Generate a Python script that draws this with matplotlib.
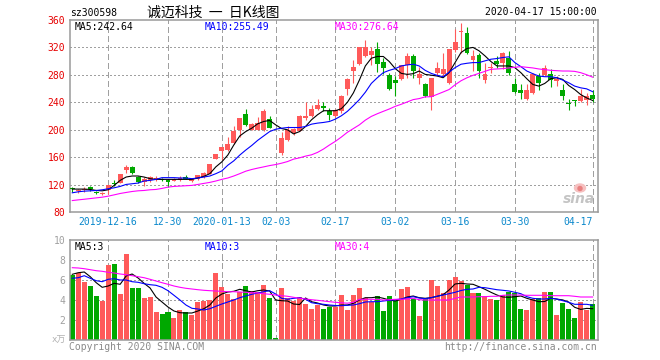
import numpy as np
import matplotlib
matplotlib.use("Agg")
import matplotlib.pyplot as plt
from matplotlib.patches import Ellipse

plt.rcParams["font.family"] = ["DejaVu Sans Mono", "Noto Sans CJK SC"]
plt.rcParams["lines.scale_dashes"] = False

W, H = 660, 360

# daily candles, 88 trading days (2019-12-06 .. 2020-04-17)
opens = [114.3, 110.0, 111.4, 116.3, 109.5, 106.5, 111.4, 121.5, 122.2, 141.0,
         145.8, 131.0, 124.0, 126.0, 126.0, 128.6, 126.0, 125.5, 126.0, 131.0,
         125.0, 127.6, 131.0, 136.0, 158.0, 169.3, 170.3, 180.0, 199.8, 223.3,
         199.8, 200.0, 199.8, 215.5, 183.3, 165.4, 185.0, 194.9, 198.8, 216.9,
         220.4, 230.7, 235.1, 227.7, 220.4, 226.7, 259.6, 285.6, 295.5, 307.7,
         309.2, 317.5, 298.9, 279.2, 272.8, 274.4, 294.0, 307.7, 275.8, 266.5,
         247.0, 282.0, 280.7, 268.5, 316.0, 342.0, 341.0, 301.8, 308.7, 272.4,
         290.0, 300.4, 297.9, 305.3, 266.0, 257.2, 244.9, 253.7, 278.3, 279.8,
         281.7, 270.9, 258.6, 238.5, 241.9, 241.5, 243.9, 251.3]
highs = [116.3, 114.0, 116.0, 117.5, 111.0, 109.5, 119.5, 126.0, 135.5, 148.0,
         147.5, 132.0, 131.0, 133.0, 132.0, 130.0, 128.6, 129.0, 132.0, 134.0,
         129.0, 134.5, 138.0, 150.0, 165.0, 175.0, 190.0, 204.7, 217.0, 230.7,
         210.0, 218.0, 230.7, 220.4, 183.3, 197.3, 204.7, 203.0, 221.0, 240.0,
         236.6, 245.4, 240.0, 231.7, 230.0, 250.5, 275.0, 301.4, 320.5, 330.8,
         320.0, 327.4, 305.3, 283.2, 277.7, 295.0, 312.6, 310.0, 291.5, 268.0,
         276.0, 298.5, 312.0, 318.0, 347.0, 355.8, 349.5, 316.6, 312.6, 297.9,
         297.9, 307.7, 313.6, 314.1, 275.8, 266.0, 266.0, 283.0, 283.2, 294.0,
         289.0, 278.3, 266.0, 244.9, 244.0, 259.6, 253.7, 258.6]
lows = [109.0, 108.0, 109.5, 111.0, 106.0, 105.0, 106.5, 117.5, 122.0, 137.0,
        135.0, 123.0, 118.0, 124.0, 125.0, 125.0, 116.0, 125.0, 125.0, 128.0,
        124.0, 126.0, 129.0, 135.0, 157.0, 155.6, 169.0, 179.0, 190.0, 206.0,
        199.0, 199.0, 197.7, 202.0, 183.0, 163.0, 184.0, 193.0, 198.0, 214.5,
        219.0, 229.2, 226.7, 214.5, 219.0, 225.0, 251.3, 268.5, 294.0, 306.0,
        294.5, 284.0, 280.7, 258.6, 248.8, 273.0, 275.8, 275.8, 266.0, 248.0,
        228.7, 280.0, 279.0, 266.0, 314.0, 312.6, 310.0, 285.6, 275.8, 267.5,
        283.2, 290.6, 288.0, 279.8, 253.7, 244.9, 244.0, 252.0, 258.6, 279.0,
        262.6, 263.6, 243.9, 228.2, 234.1, 240.0, 236.6, 240.0]
closes = [113.8, 112.4, 113.9, 113.4, 107.0, 108.0, 118.8, 120.5, 135.0, 146.0,
          137.0, 123.7, 127.6, 131.0, 129.6, 126.0, 123.7, 127.5, 130.0, 128.6,
          127.6, 133.5, 137.0, 149.7, 164.4, 174.2, 179.0, 198.8, 216.9, 207.1,
          208.6, 209.6, 226.7, 203.2, 183.0, 188.5, 199.8, 201.2, 220.4, 220.4,
          230.7, 236.6, 231.2, 221.8, 229.2, 249.8, 274.4, 291.5, 320.0, 320.0,
          314.1, 296.4, 290.0, 259.6, 267.9, 294.0, 307.7, 285.6, 281.7, 248.8,
          275.0, 290.6, 289.0, 317.5, 327.4, 343.6, 311.2, 307.7, 285.6, 280.7,
          290.6, 295.5, 311.2, 283.2, 255.2, 253.7, 257.2, 281.7, 267.5, 290.6,
          271.9, 274.4, 249.8, 238.0, 241.5, 249.8, 248.8, 244.9]

ma5 = [113.4, 113.4, 113.4, 112.9, 111.4, 110.9, 112.4, 118.8, 126.1, 131.0,
       132.5, 132.5, 131.0, 128.6, 127.6, 127.6, 127.6, 127.6, 127.6, 127.6,
       127.6, 129.6, 132.0, 135.9, 145.8, 153.1, 163.0, 177.7, 190.9, 197.3,
       202.2, 208.6, 212.0, 213.5, 207.1, 201.7, 199.8, 193.9, 197.3, 204.7,
       214.5, 221.8, 227.7, 227.7, 227.7, 230.7, 240.0, 253.7, 272.4, 293.0,
       304.3, 306.8, 306.8, 299.4, 289.1, 282.2, 280.7, 281.7, 285.6, 280.7,
       279.5, 278.3, 275.8, 283.2, 297.9, 312.6, 318.5, 320.0, 315.1, 307.7,
       299.4, 293.0, 293.0, 293.0, 290.5, 283.2, 274.3, 266.0, 263.6, 267.5,
       274.4, 275.8, 273.4, 264.5, 258.6, 251.3, 246.4, 242.64]
ma10 = [108.0, 109.5, 110.4, 110.9, 111.4, 112.4, 113.9, 115.3, 117.3, 120.2,
        121.2, 122.2, 125.2, 126.1, 127.6, 130.1, 130.1, 130.1, 129.6, 129.6,
        128.6, 129.6, 131.0, 132.5, 135.9, 139.9, 148.2, 154.6, 163.0, 170.3,
        177.0, 184.5, 190.9, 197.3, 200.7, 202.2, 203.2, 203.2, 203.2, 204.7,
        208.1, 209.6, 210.6, 212.0, 215.5, 220.4, 226.8, 235.1, 243.9, 254.7,
        267.5, 275.8, 283.2, 286.6, 289.1, 293.0, 294.5, 295.5, 293.0, 286.6,
        282.2, 279.3, 277.3, 284.0, 290.5, 295.5, 296.9, 297.9, 297.9, 300.4,
        302.8, 303.8, 305.3, 306.3, 297.9, 292.0, 285.6, 281.7, 278.3, 277.3,
        277.3, 275.8, 272.4, 268.5, 263.6, 261.1, 259.6, 255.49]
ma30 = [96.7, 97.7, 98.6, 99.6, 100.6, 101.6, 103.1, 105.0, 107.0, 108.5,
        109.9, 110.9, 111.4, 112.4, 112.9, 114.4, 116.3, 117.3, 117.8, 118.3,
        118.8, 120.2, 121.7, 123.2, 125.2, 127.6, 129.6, 132.5, 135.9, 139.5,
        142.0, 144.0, 145.8, 147.7, 149.2, 151.2, 153.6, 157.1, 159.0, 161.5,
        163.4, 166.9, 171.8, 177.7, 183.1, 189.4, 196.3, 201.7, 207.1, 214.0,
        219.4, 223.3, 226.8, 230.2, 234.1, 237.1, 240.5, 243.9, 245.4, 247.9,
        248.1, 251.5, 255.0, 258.6, 265.5, 271.4, 275.8, 279.3, 282.2, 285.1,
        288.1, 288.6, 289.1, 290.1, 291.0, 292.0, 291.0, 290.1, 288.6, 287.6,
        286.6, 286.1, 285.6, 285.6, 285.1, 283.2, 280.2, 276.64]

# volume, x 10k
volumes = [6.5, 6.73, 5.83, 5.4, 4.4, 3.93, 7.53, 7.63, 4.6, 8.6,
           5.23, 5.23, 4.23, 4.3, 2.83, 2.6, 2.8, 2.23, 3.0, 2.8,
           2.5, 3.83, 3.93, 4.0, 6.73, 5.3, 4.63, 4.07, 4.77, 5.4,
           4.9, 4.83, 5.5, 4.2, 0.23, 5.2, 4.17, 3.9, 4.33, 3.63,
           3.13, 3.5, 3.1, 3.33, 3.3, 4.5, 3.0, 4.5, 5.2, 4.23,
           3.83, 4.4, 2.9, 4.4, 3.9, 5.1, 5.3, 4.07, 2.4, 4.17,
           6.0, 5.4, 4.7, 6.0, 6.3, 5.9, 5.5, 4.7, 4.7, 4.37,
           4.1, 4.0, 4.5, 4.8, 4.73, 3.1, 3.0, 4.1, 4.23, 4.8,
           4.8, 2.5, 3.73, 3.1, 2.2, 3.77, 3.0, 3.57]
vol_ma5 = [6.57, 6.73, 6.8, 6.33, 5.73, 5.27, 5.4, 5.67, 5.57, 6.4,
           6.6, 6.2, 5.67, 5.2, 4.3, 3.8, 3.3, 2.9, 2.73, 2.7,
           2.7, 2.9, 3.13, 3.5, 4.2, 4.6, 4.8, 4.87, 5.07, 4.93,
           4.8, 4.93, 5.0, 4.9, 4.0, 3.93, 3.9, 3.6, 3.55, 4.2,
           3.83, 3.7, 3.5, 3.4, 3.4, 3.5, 3.5, 3.67, 4.0, 4.23,
           4.23, 4.3, 4.17, 4.0, 3.9, 4.07, 4.3, 4.4, 4.23, 4.17,
           4.23, 4.37, 4.53, 5.0, 5.6, 5.67, 5.6, 5.57, 5.33, 5.07,
           4.77, 4.5, 4.3, 4.27, 4.33, 4.4, 4.17, 4.0, 3.83, 3.85,
           4.19, 4.09, 4.01, 3.79, 3.27, 3.06, 3.16, 3.13]
vol_ma10 = [6.17, 6.23, 6.43, 6.17, 5.93, 5.83, 6.07, 6.13, 6.0, 6.0,
            5.83, 5.77, 5.63, 5.53, 5.47, 5.27, 4.93, 4.47, 4.0, 3.5,
            3.17, 3.1, 3.0, 3.13, 3.37, 3.6, 3.8, 4.0, 4.23, 4.4,
            4.57, 4.7, 4.83, 4.93, 4.6, 4.17, 4.07, 4.17, 4.23, 4.07,
            3.73, 3.63, 3.57, 3.5, 3.45, 3.43, 3.47, 3.5, 3.63, 3.8,
            3.83, 3.83, 3.9, 3.97, 4.03, 4.1, 4.23, 4.33, 4.2, 4.13,
            4.23, 4.37, 4.5, 4.63, 4.77, 4.95, 5.07, 5.1, 5.27, 5.23,
            5.13, 5.03, 4.97, 4.9, 4.77, 4.63, 4.33, 4.17, 4.1, 4.1,
            4.17, 4.1, 3.93, 3.77, 3.57, 3.57, 3.57, 3.47]
vol_ma30 = [7.23, 7.2, 7.13, 7.03, 6.93, 6.87, 6.77, 6.7, 6.6, 6.53,
            6.43, 6.33, 6.23, 6.07, 5.9, 5.73, 5.57, 5.4, 5.27, 5.17,
            5.1, 5.03, 4.97, 4.93, 4.9, 4.87, 4.83, 4.83, 4.8, 4.77,
            4.73, 4.7, 4.63, 4.57, 4.5, 4.43, 4.37, 4.27, 4.17, 4.1,
            4.03, 3.97, 3.9, 3.83, 3.77, 3.72, 3.68, 3.77, 4.07, 4.07,
            4.07, 4.07, 4.0, 4.03, 4.07, 4.07, 4.1, 4.17, 4.03, 4.0,
            4.0, 4.0, 4.0, 4.0, 4.17, 4.3, 4.3, 4.3, 4.33, 4.33,
            4.37, 4.37, 4.47, 4.5, 4.5, 4.5, 4.47, 4.47, 4.47, 4.47,
            4.43, 4.43, 4.43, 4.43, 4.37, 4.3, 4.3, 4.3]

date_idx = [6, 16, 25, 34, 44, 54, 64, 74, 87]
date_labels = ["2019-12-16", "12-30", "2020-01-13", "02-03", "02-17",
               "03-02", "03-16", "03-30", "04-17"]
price_ticks = [80, 120, 160, 200, 240, 280, 320, 360]
vol_ticks = [2, 4, 6, 8, 10]

RED = "#ff5a5a"
GREEN = "#00a800"
AXIS = "#9a9a9a"
GRID = "#a0a0a0"
DATE_BLUE = "#0a88cc"


def fx(px):
    return px / W


def fy(py):
    return 1 - py / H


fig = plt.figure(figsize=(6.6, 3.6), dpi=100)
ax = fig.add_axes([fx(70), fy(212), 528 / W, 192 / H])
axv = fig.add_axes([fx(70), fy(340), 528 / W, 100 / H])

x = np.arange(len(closes))
o, hi, lo, c = map(np.array, (opens, highs, lows, closes))
colors = np.where(c > o, RED, GREEN)

for a in (ax, axv):
    a.set_xlim(-0.385, 87.9)
    a.set_xticks([])
    for s in a.spines.values():
        s.set_color(AXIS)
        s.set_linewidth(1.1)
    for d in date_idx:
        a.axvline(d, color=GRID, lw=0.8, ls=(0, (3.6, 2.2)), zorder=0,
                  antialiased=False)
    a.tick_params(axis="y", length=0, pad=3.5, labelsize=7)

# price panel
ax.set_ylim(80, 360)
ax.set_yticks(price_ticks)
ax.set_yticklabels([str(t) for t in price_ticks], color="#e60000")
for t in price_ticks[1:-1]:
    ax.axhline(t, color=GRID, lw=0.75, ls=(0, (0.75, 1.45)), zorder=0,
               antialiased=False)

ax.vlines(x, lo, hi, colors=colors, lw=0.8, zorder=2)
ax.bar(x, np.maximum(np.abs(c - o), 1.2), bottom=np.minimum(o, c),
       width=0.82, color=colors, zorder=3)
ax.plot(x, ma5, color="black", lw=0.8, zorder=4)
ax.plot(x, ma10, color="#0000ff", lw=0.8, zorder=4)
ax.plot(x, ma30, color="#ff00ff", lw=0.8, zorder=4)

# volume panel
axv.set_ylim(0, 10)
axv.set_yticks(vol_ticks)
axv.set_yticklabels([str(t) for t in vol_ticks], color="#a0a0a0")
for t in vol_ticks[:-1]:
    axv.axhline(t, color=GRID, lw=0.75, ls=(0, (0.75, 1.45)), zorder=0,
                antialiased=False)
axv.bar(x, volumes, width=0.84, color=colors, zorder=2)
axv.plot(x, vol_ma5, color="black", lw=0.8, zorder=4)
axv.plot(x, vol_ma10, color="#0000ff", lw=0.8, zorder=4)
axv.plot(x, vol_ma30, color="#ff00ff", lw=0.8, zorder=4)

# date labels under the price panel
for d, lab in zip(date_idx, date_labels):
    ha = "right" if d == date_idx[-1] else "center"
    ax.text(d, -0.052, lab, transform=ax.get_xaxis_transform(), ha=ha,
            va="center", fontsize=7, color=DATE_BLUE)

# header texts
fig.text(fx(70), fy(13), "sz300598", fontsize=7, va="center")
fig.text(fx(213), fy(12.5), "诚迈科技  一  日K线图", fontsize=10, va="center",
         ha="center", family=["Noto Sans CJK SC", "DejaVu Sans"])
fig.text(fx(597), fy(12), "2020-04-17 15:00:00", fontsize=7, va="center", ha="right")

fig.text(fx(75), fy(26.5), "MA5:242.64", fontsize=7, va="center", color="black")
fig.text(fx(205), fy(26.5), "MA10:255.49", fontsize=7, va="center", color="#0000ff")
fig.text(fx(335), fy(26.5), "MA30:276.64", fontsize=7, va="center", color="#ff00ff")

fig.text(fx(75), fy(247), "MA5:3", fontsize=7, va="center", color="black")
fig.text(fx(205), fy(247), "MA10:3", fontsize=7, va="center", color="#0000ff")
fig.text(fx(335), fy(247), "MA30:4", fontsize=7, va="center", color="#ff00ff")

fig.text(fx(66), fy(340), "x万", fontsize=6.5, va="center", ha="right", color="#b0b0b0")
fig.text(fx(69), fy(346.5), "Copyright 2020 SINA.COM", fontsize=7, va="center", color="#8a8a8a")
fig.text(fx(597), fy(346.5), "http://finance.sina.com.cn", fontsize=7, va="center",
         ha="right", color="#8a8a8a")

# sina watermark
fig.add_artist(Ellipse((fx(580), fy(188)), 11 / W, 8 / H, transform=fig.transFigure,
                       color="#f6c0c0", zorder=5))
fig.add_artist(Ellipse((fx(580), fy(188.5)), 4 / W, 4 / H, transform=fig.transFigure,
                       color="#e88080", zorder=6))
fig.text(fx(579), fy(199), "sina", fontsize=10, va="center", ha="center",
         color="#c4c4c4", weight="bold", style="italic", family="DejaVu Sans", zorder=6)

fig.savefig("out.png", dpi=100)
